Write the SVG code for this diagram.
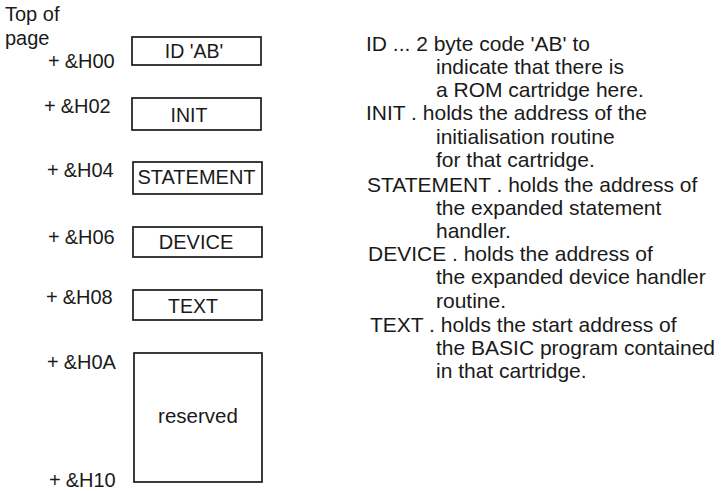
<svg xmlns="http://www.w3.org/2000/svg" width="721" height="491" viewBox="0 0 721 491">
<style>
text{font-family:"Liberation Sans",Arial,sans-serif;fill:#1a1a1a}
.lbl{font-size:20px}
.bt{font-size:19.5px;text-anchor:middle}
.desc{font-size:21px}
.box{fill:#fff;stroke:#1a1a1a;stroke-width:1.7}
</style>
<rect width="721" height="491" fill="#fff"/>
<g id="labels">
<text class="lbl" x="5" y="21">Top of</text>
<text class="lbl" x="5" y="45">page</text>
<text class="lbl" x="48" y="68">+<tspan dx="5">&amp;H00</tspan></text>
<text class="lbl" x="44" y="113">+<tspan dx="5">&amp;H02</tspan></text>
<text class="lbl" x="47" y="177">+<tspan dx="5">&amp;H04</tspan></text>
<text class="lbl" x="48" y="244">+<tspan dx="5">&amp;H06</tspan></text>
<text class="lbl" x="46" y="304">+<tspan dx="5">&amp;H08</tspan></text>
<text class="lbl" x="47" y="369">+<tspan dx="5">&amp;H0A</tspan></text>
<text class="lbl" x="49" y="487">+<tspan dx="5">&amp;H10</tspan></text>
</g>
<g id="connectors"></g>
<g id="node-id">
<rect class="box" x="132" y="37" width="129" height="28"/>
<text class="bt" x="194" y="58">ID 'AB'</text>
</g>
<g id="node-init">
<rect class="box" x="132" y="98" width="129" height="32"/>
<text class="bt" x="189" y="122">INIT</text>
</g>
<g id="node-statement">
<rect class="box" x="133" y="162" width="129" height="32"/>
<text class="bt" x="196.5" y="184" style="font-size:20px">STATEMENT</text>
</g>
<g id="node-device">
<rect class="box" x="133" y="227" width="129" height="30"/>
<text class="bt" x="196" y="249" style="font-size:20px">DEVICE</text>
</g>
<g id="node-text">
<rect class="box" x="133" y="290" width="129" height="30"/>
<text class="bt" x="193" y="313">TEXT</text>
</g>
<g id="node-reserved">
<rect class="box" x="134" y="353" width="128" height="129"/>
<text class="bt" x="198" y="423" style="font-size:20.5px">reserved</text>
</g>
<g id="description">
<text class="desc" x="366" y="51">ID ... 2 byte code 'AB' to</text>
<text class="desc" x="436" y="74">indicate that there is</text>
<text class="desc" x="436" y="97">a ROM cartridge here.</text>
<text class="desc" x="366" y="120">INIT . holds the address of the</text>
<text class="desc" x="436" y="144">initialisation routine</text>
<text class="desc" x="436" y="167">for that cartridge.</text>
<text class="desc" x="367" y="192">STATEMENT . holds the address of</text>
<text class="desc" x="436" y="215">the expanded statement</text>
<text class="desc" x="436" y="238">handler.</text>
<text class="desc" x="368" y="261">DEVICE . holds the address of</text>
<text class="desc" x="436" y="284">the expanded device handler</text>
<text class="desc" x="436" y="308">routine.</text>
<text class="desc" x="370" y="332">TEXT . holds the start address of</text>
<text class="desc" x="436" y="355">the BASIC program contained</text>
<text class="desc" x="436" y="378">in that cartridge.</text>
</g>
</svg>
